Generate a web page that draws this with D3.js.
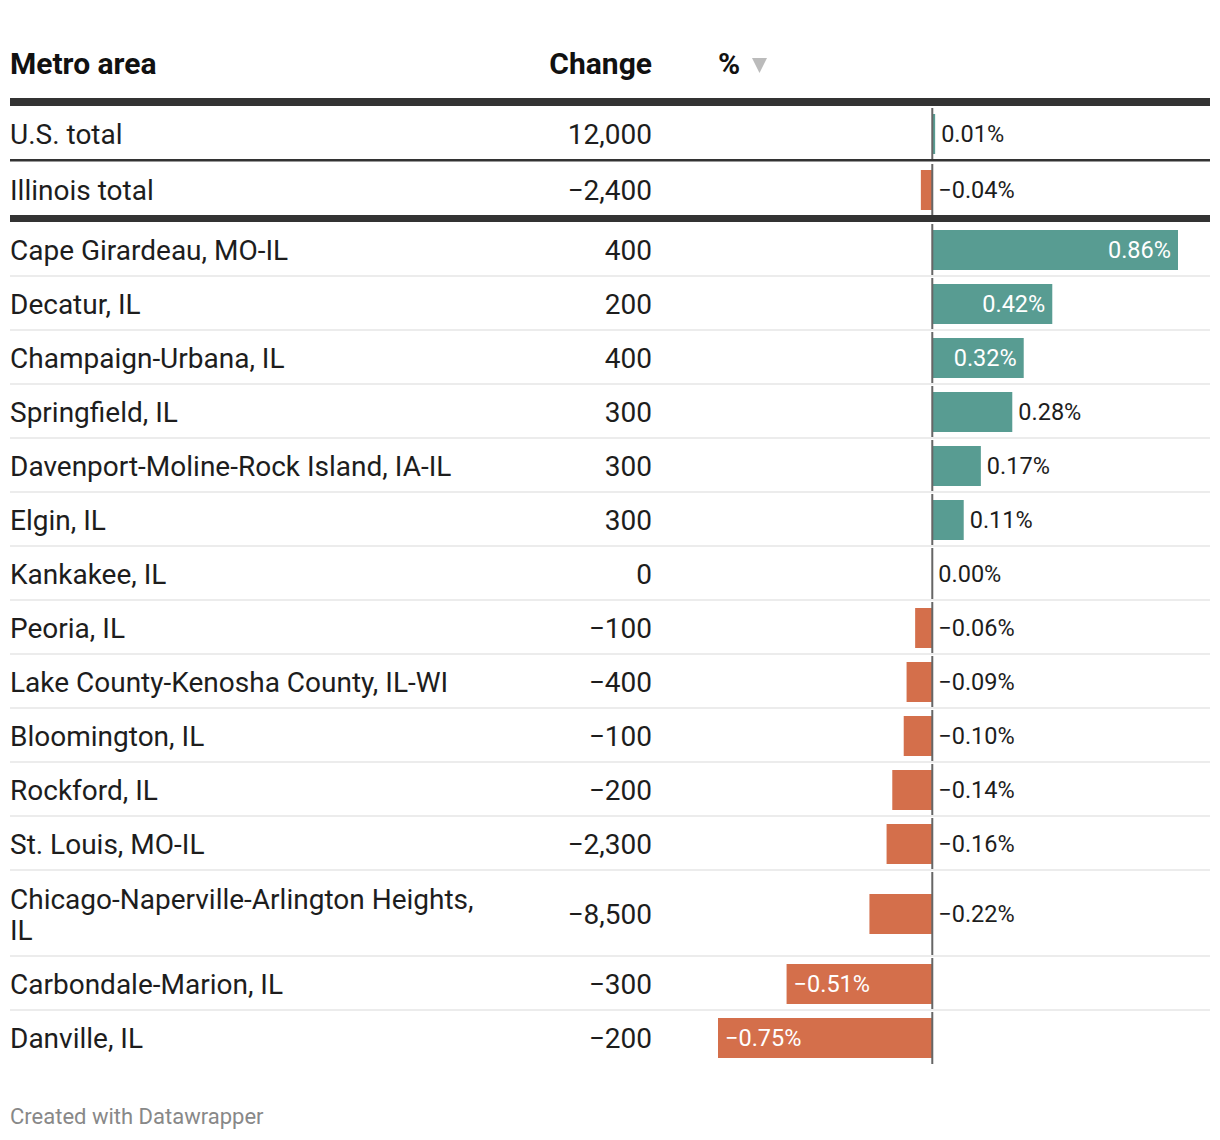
<!DOCTYPE html>
<html><head><meta charset="utf-8">
<script src="https://cdn.jsdelivr.net/npm/d3@7"></script>
<style>
body{margin:0;background:#fff;}
svg{font-family:Roboto,"Noto Sans",sans-serif;}
</style></head>
<body>
<svg id="c" width="1220" height="1140"></svg>
<script>
const totalNames = ["U.S. total", "Illinois total"];
const totalChange = ["12,000", "\u22122,400"];
const totalPct = [0.01, -0.04];

const metroNames = ["Cape Girardeau, MO-IL","Decatur, IL","Champaign-Urbana, IL","Springfield, IL","Davenport-Moline-Rock Island, IA-IL","Elgin, IL","Kankakee, IL","Peoria, IL","Lake County-Kenosha County, IL-WI","Bloomington, IL","Rockford, IL","St. Louis, MO-IL","Chicago-Naperville-Arlington Heights, IL","Carbondale-Marion, IL","Danville, IL"];
const metroChange = ["400","200","400","300","300","300","0","\u2212100","\u2212400","\u2212100","\u2212200","\u22122,300","\u22128,500","\u2212300","\u2212200"];
const metroPct = [0.86,0.42,0.32,0.28,0.17,0.11,0.00,-0.06,-0.09,-0.10,-0.14,-0.16,-0.22,-0.51,-0.75];

const headers = ["Metro area","Change","%"];

const svg = d3.select("#c");
const L = 10, R = 1210;
const FS = 28, LFS = 23.5, HFS = 30;
const x = d3.scaleLinear().domain([-0.75, 0.86]).range([718, 1178]);
const pos = "#589c92", neg = "#d46f4b", txt = "#1d1d1d";
const fmt = v => (v < 0 ? "\u2212" : "") + d3.format(".2f")(Math.abs(v)) + "%";

// header
svg.append("text").attr("x", L).attr("y", 74).text(headers[0])
  .attr("font-size", HFS).attr("font-weight", 700).attr("fill", "#111");
svg.append("text").attr("x", 652).attr("y", 74).attr("text-anchor", "end").text(headers[1])
  .attr("font-size", HFS).attr("font-weight", 700).attr("fill", "#111");
svg.append("text").attr("x", 718).attr("y", 74).text(headers[2])
  .attr("font-size", HFS).attr("font-weight", 700).attr("fill", "#111");
svg.append("path").attr("d", "M752,58 L767,58 L759.5,73 Z").attr("fill", "#bbb");

svg.append("rect").attr("x", L).attr("y", 98).attr("width", R - L).attr("height", 8).attr("fill", "#333");

function wrapLines(str, maxW) {
  const t = svg.append("text").attr("font-size", FS).attr("visibility", "hidden");
  const words = str.split(" ");
  const lines = []; let cur = "";
  words.forEach(w => {
    const test = cur ? cur + " " + w : w;
    t.text(test);
    if (t.node().getComputedTextLength() > maxW && cur) { lines.push(cur); cur = w; }
    else cur = test;
  });
  lines.push(cur);
  t.remove();
  return lines;
}

function drawRow(name, change, pct, top) {
  const lines = wrapLines(name, 475);
  const h = 54 + (lines.length - 1) * 32;
  const cy = top + h / 2 + 1;
  const g = svg.append("g");
  const tx = g.append("text").attr("x", L).attr("font-size", FS).attr("fill", txt);
  lines.forEach((ln, i) => {
    tx.append("tspan").attr("x", L)
      .attr("y", cy - (lines.length - 1) * 15.5 + i * 31)
      .attr("dy", "0.36em").text(ln);
  });
  g.append("text").attr("x", 652).attr("y", cy).attr("dy", "0.36em").attr("text-anchor", "end")
    .attr("font-size", FS).attr("fill", txt).text(change);
  const x0 = x(0), x1 = x(pct);
  g.append("rect").attr("x", Math.min(x0, x1)).attr("width", Math.abs(x1 - x0))
    .attr("y", cy - 20).attr("height", 40).attr("fill", pct >= 0 ? pos : neg);
  g.append("rect").attr("x", x0 - 1).attr("width", 2).attr("y", top + 2).attr("height", h - 2).attr("fill", "#666");
  const lab = g.append("text").attr("y", cy).attr("dy", "0.36em").attr("font-size", LFS).text(fmt(pct));
  const lw = lab.node().getComputedTextLength();
  const bw = Math.abs(x1 - x0);
  if (bw > lw + 22) {
    if (pct >= 0) lab.attr("x", x1 - 7).attr("text-anchor", "end").attr("fill", "#fff");
    else lab.attr("x", x1 + 7).attr("fill", "#fff");
  } else {
    const sx = pct > 0 ? x1 + 6 : x0 + 6;
    lab.attr("x", sx).attr("fill", txt);
  }
  return h;
}

let y = 106;
totalNames.forEach((n, i) => {
  const h = drawRow(n, totalChange[i], totalPct[i], y);
  y += h;
  if (i === 0) { svg.append("rect").attr("x", L).attr("y", y - 1).attr("width", R - L).attr("height", 2.5).attr("fill", "#333"); y += 2; }
});
svg.append("rect").attr("x", L).attr("y", y - 1).attr("width", R - L).attr("height", 7).attr("fill", "#333");
y += 6;
metroNames.forEach((n, i) => {
  const h = drawRow(n, metroChange[i], metroPct[i], y);
  y += h;
  if (i < metroNames.length - 1) {
    svg.append("rect").attr("x", L).attr("y", y - 1).attr("width", R - L).attr("height", 2).attr("fill", "#ececec");
  }
});

svg.append("text").attr("x", L).attr("y", 1124).attr("font-size", 22).attr("fill", "#888").text("Created with Datawrapper");
</script>
</body></html>
